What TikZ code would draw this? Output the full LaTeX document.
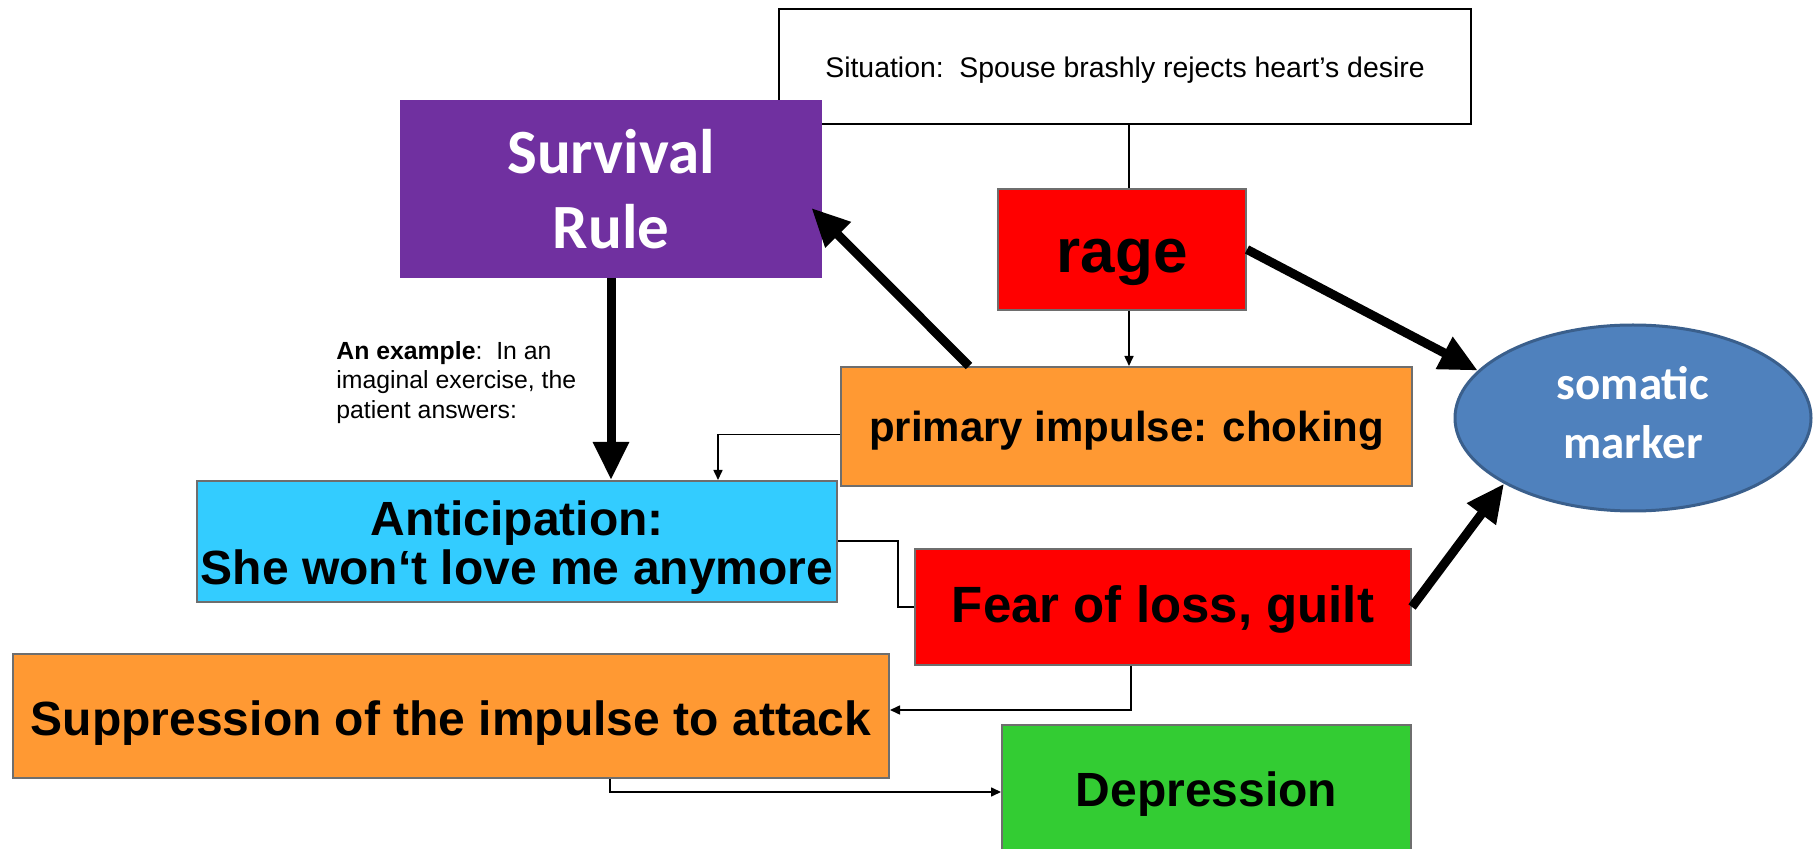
\documentclass[tikz,border=0pt]{standalone}
\usepackage{fontspec}
\setmainfont{Liberation Sans}
\newfontfamily\calibri{Carlito}
\usetikzlibrary{shapes.geometric, arrows.meta, positioning}
\definecolor{rulepurple}{HTML}{7030A0}
\definecolor{ragered}{HTML}{FF0000}
\definecolor{impulseorange}{HTML}{FF9933}
\definecolor{anticblue}{HTML}{33CCFF}
\definecolor{deprgreen}{HTML}{33CC33}
\definecolor{somablue}{HTML}{4F81BD}
\definecolor{somaline}{HTML}{3A5F8C}
\definecolor{boxgray}{HTML}{6E6E6E}

\begin{document}
\begin{tikzpicture}[x=0.5pt, y=-0.5pt,
    box/.style={draw=boxgray, line width=1pt, inner sep=0pt, align=center},
    fat/.style={line width=4.5pt, -{Triangle[length=19pt,width=17pt]}},
    link/.style={line width=0.8pt, -{Triangle[length=5pt,width=4.5pt]}},
  ]
  \useasboundingbox (0,0) rectangle (1816,849);

  % boxes
  \node[draw=black, line width=0.6pt, minimum width=346pt, minimum height=57.5pt,
        font=\fontsize{14.2}{17}\selectfont] (sit) at (1125,66.5)
        {\rule{0pt}{13.9pt}Situation:\ \ Spouse brashly rejects heart's desire};
  \node[fill=rulepurple, text=white, minimum width=211pt, minimum height=89pt, align=center,
        font=\calibri\bfseries\fontsize{31.5}{37.7}\selectfont] (surv) at (611,189) {Survival\\Rule};
  \node[box, fill=ragered, minimum width=124pt, minimum height=60.5pt,
        font=\bfseries\fontsize{31}{36}\selectfont] (rage) at (1122,249.5) {\rule{0pt}{30pt}rage};
  \node[box, fill=impulseorange, minimum width=285.5pt, minimum height=59.5pt,
        font=\bfseries\fontsize{21}{25}\selectfont] (prim) at (1126.5,426.5)
        {\rule{0pt}{19.9pt}primary impulse: choking};
  \node[ellipse, draw=somaline, line width=1.5pt, fill=somablue, text=white,
        minimum width=178pt, minimum height=93pt, align=center,
        font=\calibri\bfseries\fontsize{23.5}{29.5}\selectfont] (soma) at (1633,418)
        {somatic\\marker\rule[-5.8pt]{0pt}{0pt}};
  \node[box, fill=anticblue, minimum width=320pt, minimum height=60.5pt,
        font=\bfseries\fontsize{24}{24.5}\selectfont] (antic) at (517,541.5)
        {\rule{0pt}{23.3pt}Anticipation:\\She won‘t love me anymore};
  \node[box, fill=ragered, minimum width=248pt, minimum height=58pt,
        font=\bfseries\fontsize{25.5}{30}\selectfont] (fear) at (1163,607)
        {\rule{0pt}{21pt}Fear of loss, guilt};
  \node[box, fill=impulseorange, minimum width=438pt, minimum height=62pt,
        font=\bfseries\fontsize{24}{28}\selectfont] (supp) at (451,716)
        {\rule{0pt}{24.5pt}Suppression of the impulse to attack};
  \node[box, fill=deprgreen, minimum width=204.5pt, minimum height=67pt,
        font=\bfseries\fontsize{24}{28}\selectfont] (depr) at (1206.5,792)
        {\rule{0pt}{19pt}Depression};

  \node[anchor=north west, align=left, inner sep=0pt,
        font=\fontsize{12.4}{14.7}\selectfont] (note) at (336,341)
        {\textbf{An example}:\ \ In an\\imaginal exercise, the\\patient answers:};

  % connectors
  \coordinate (ragetop) at ([shift={(7,0)}]rage.north);
  \coordinate (ragebot) at ([shift={(7,0)}]rage.south);
  \draw[line width=0.8pt] (sit.south -| ragetop) -- (ragetop);
  \draw[link] (ragebot) -- (ragebot |- prim.north);
  \draw[fat] ([shift={(129,0)}]prim.north west) -- ([shift={(-11,19)}]surv.east);
  \draw[fat] (rage.east) -- (soma.163);
  \draw[fat] (fear.east) -- (soma.207);
  \draw[fat] (surv.south) -- (surv.south |- antic.north);
  \draw[link] ([shift={(0,8)}]prim.west) -| ([shift={(201,0)}]antic.north);
  \draw[line width=1pt] (antic.east) -- ([shift={(-16,0)}]fear.west |- antic.east) |- (fear.west);
  \draw[link] ([shift={(-32,0)}]fear.south) |- ([shift={(0,-6)}]supp.east);
  \draw[link] ([shift={(159,0)}]supp.south) |- (depr.west);
\end{tikzpicture}
\end{document}
